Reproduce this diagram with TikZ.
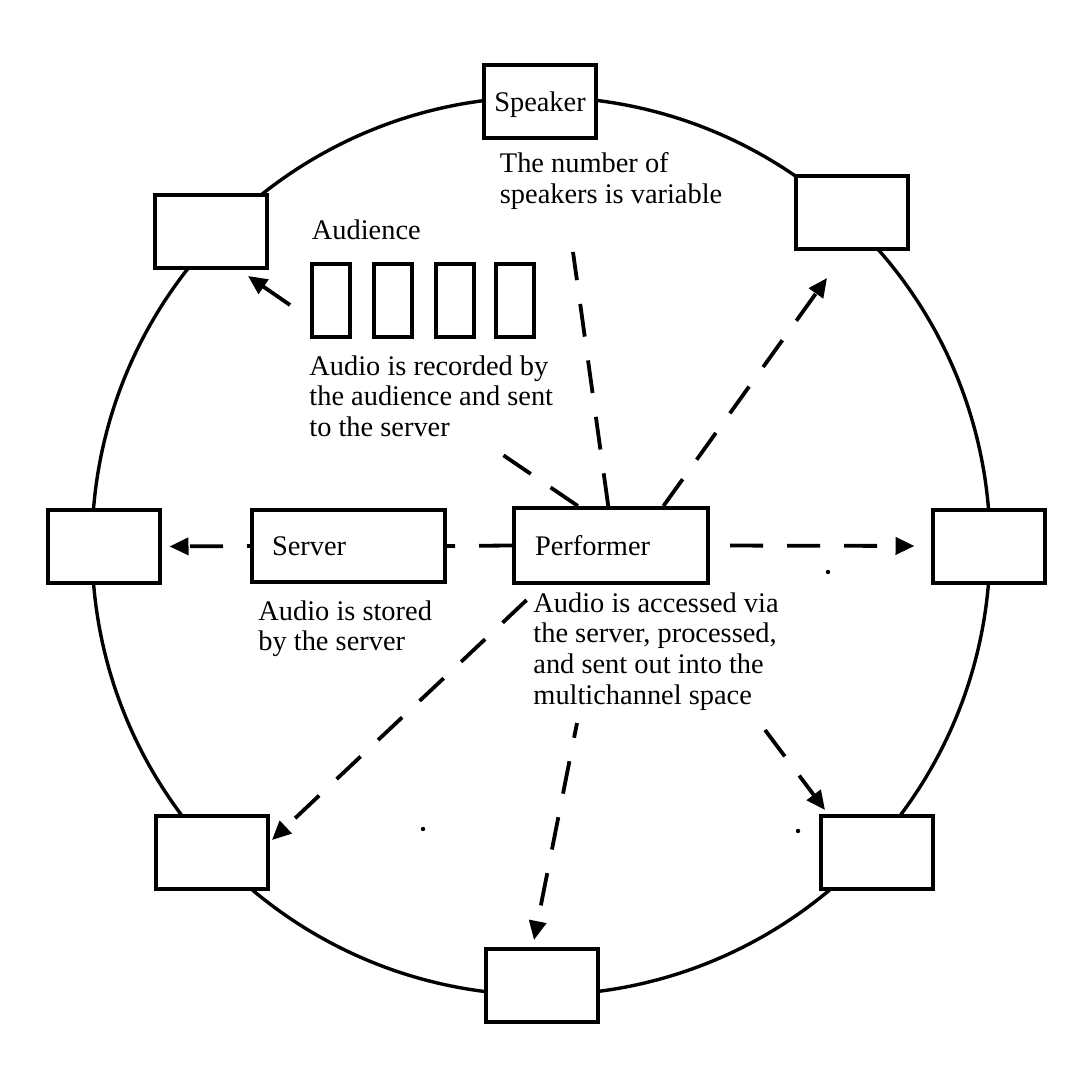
\documentclass[tikz,border=0pt]{standalone}
\usepackage{fontspec}
\setmainfont{Liberation Serif}
\usetikzlibrary{arrows.meta}
\newcommand{\txtlines}[1]{\begin{tabular}[t]{@{}l@{}}#1\end{tabular}}
\begin{document}
\fontsize{14.2pt}{15.4pt}\selectfont
\begin{tikzpicture}[x=0.5pt,y=-0.5pt,
  every node/.style={font=\fontsize{14.2pt}{15.4pt}\selectfont},
  spkbox/.style={draw, line width=2pt, fill=white, minimum width=56pt, minimum height=36.5pt, inner sep=0pt, text depth=0pt},
  audbox/.style={draw, line width=2pt, fill=white, minimum width=19pt, minimum height=36.5pt, inner sep=0pt},
  srvbox/.style={draw, line width=2pt, fill=white, minimum height=36pt, inner ysep=0pt, inner xsep=10pt, text width=76.5pt, align=left},
  perfbox/.style={draw, line width=2pt, fill=white, minimum height=37.5pt, inner ysep=0pt, inner xsep=10.5pt, text width=76pt, align=left},
  txt/.style={inner sep=0pt, anchor=base west},
  dashline/.style={line width=1.9pt, dash pattern=on 16.5pt off 12pt},
  tip/.style={-{Triangle[length=9.5pt,width=8.5pt]}},
  solidline/.style={line width=1.9pt}
]
\useasboundingbox (0,0) rectangle (1080,1080);
\fill[white] (0,0) rectangle (1080,1080);

% ring
\draw[line width=1.7pt] (541,546) circle[radius=224.5pt];

% central boxes
\node[srvbox] (server) at (348.5,546) {Server};
\node[perfbox] (perf) at (611,545.5) {Performer};

% free-end coordinates
\coordinate (a1e) at (503,455);
\coordinate (a2e) at (573,252);
\coordinate (a3e) at (827,278);
\coordinate (a7s) at (290,305);
\coordinate (a7e) at (248,276);
\coordinate (a8e) at (272,840);
\coordinate (a9s) at (577,723);
\coordinate (a9e) at (534,940);
\coordinate (a10s) at (765,730);
\coordinate (a10e) at (825,810);

% speakers
\node[spkbox] (S) at (540,101.5) {Speaker};
\node[spkbox] (TL) at (211,231.5) {};
\node[spkbox] (TR) at (851.5,212.5) {};
\node[spkbox] (L) at (104,546.5) {};
\node[spkbox] (R) at (988.5,546) {};
\node[spkbox] (BL) at (211.5,852) {};
\node[spkbox] (B) at (541.5,985.5) {};
\node[spkbox] (BR) at (877,852.5) {};

% audience
\node[audbox] (au1) at (331.2,301) {};
\node[audbox] (au2) at (393.2,301) {};
\node[audbox] (au3) at (454.9,301) {};
\node[audbox] (au4) at (514.5,301) {};

% connectors
\draw[dashline] (perf.130.6) -- (a1e);
\draw[dashline] (perf.94.5) -- (a2e);
\draw[dashline, tip] (perf.37) -- (a3e);
\draw[dashline, tip, shorten <=10pt, shorten >=8pt] (perf.east) -- (R.west);
\draw[dashline] (perf.west) -- (server.east);
\draw[dashline, tip, dash phase=15pt, shorten >=3.75pt] (server.west) -- (L.east);
\draw[solidline, tip] (a7s) -- (a7e);
\draw[dashline, tip, shorten <=11pt] (perf.210.5) -- (a8e);
\draw[dashline, tip, dash phase=9pt] (a9s) -- (a9e);
\draw[dashline, tip] (a10s) -- (a10e);

% stray dots
\fill (828,572) circle[radius=1.1pt];
\fill (423,829) circle[radius=1.1pt];
\fill (798,831) circle[radius=1.1pt];

% texts
\node[txt] (spktxt) at (499.5,173) {\txtlines{The number of\\speakers is variable}};
\node[txt] (audlbl) at (311.5,240) {Audience};
\node[txt] (audtxt) at (309,375) {\txtlines{Audio is recorded by\\the audience and sent\\to the server}};
\node[txt] (srvtxt) at (258,620) {\txtlines{Audio is stored\\by the server}};
\node[txt] (perftxt) at (533,612) {\txtlines{Audio is accessed via\\the server, processed,\\and sent out into the\\multichannel space}};
\end{tikzpicture}
\end{document}
